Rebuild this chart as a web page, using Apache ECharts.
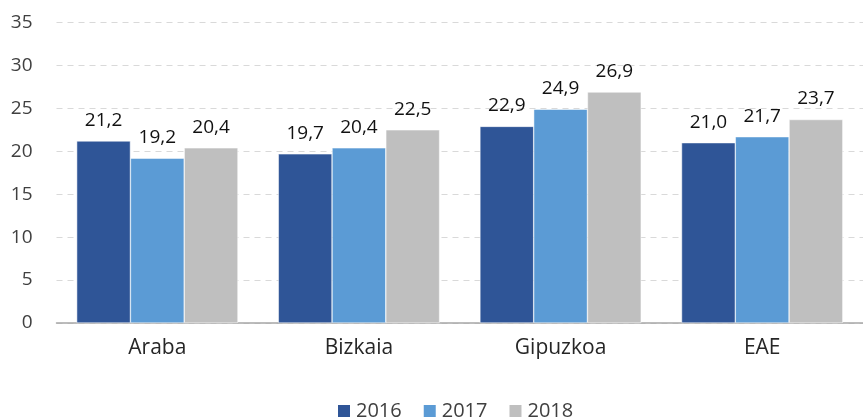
<!DOCTYPE html>
<html><head><meta charset="utf-8">
<script src="https://cdn.jsdelivr.net/npm/echarts@6/dist/echarts.min.js"></script>
<style>html,body{margin:0;padding:0;background:#fff}#c{width:863px;height:417px}</style>
</head><body><div id="c"></div>
<script>
const categories = ['Araba', 'Bizkaia', 'Gipuzkoa', 'EAE'];
const years = ['2016', '2017', '2018'];
const v2016 = [21.2, 19.7, 22.9, 21.0];
const v2017 = [19.2, 20.4, 24.9, 21.7];
const v2018 = [20.4, 22.5, 26.9, 23.7];
const colors = ['#2F5597', '#5B9BD5', '#BFBFBF'];
const font = 'Open Sans';
const chart = echarts.init(document.getElementById('c'));
const mk = (name, data, color) => ({
  name, type: 'bar', data,
  barGap: '0%', barCategoryGap: '20%',
  itemStyle: { color, borderColor: '#fff', borderWidth: 0.5 },
  label: { show: true, position: 'top', distance: 11, color: '#111', fontFamily: font, fontSize: 19,
    formatter: p => p.value.toFixed(1).replace('.', ',') }
});
chart.setOption({
  animation: false,
  textStyle: { fontFamily: font },
  grid: { left: 56.5, right: -5.5, top: 22.5, bottom: 94, containLabel: false },
  legend: {
    data: years, left: 336, top: 401, padding: 0, itemWidth: 14, itemHeight: 14, itemGap: 20,
    icon: 'rect', textStyle: { fontFamily: font, fontSize: 20, color: '#404040' }
  },
  xAxis: {
    type: 'category', data: categories,
    axisLine: { lineStyle: { color: '#A6A6A6', width: 1.5 } },
    axisTick: { show: false },
    axisLabel: { color: '#262626', fontSize: 21, fontFamily: font, margin: 15 }
  },
  yAxis: {
    type: 'value', min: 0, max: 35, interval: 5,
    axisLine: { show: false }, axisTick: { show: false },
    axisLabel: { color: '#404040', fontSize: 19, fontFamily: font, margin: 24 },
    splitLine: { lineStyle: { color: '#D9D9D9', type: [6, 5], width: 1 } }
  },
  series: [mk(years[0], v2016, colors[0]), mk(years[1], v2017, colors[1]), mk(years[2], v2018, colors[2])]
});
</script></body></html>
